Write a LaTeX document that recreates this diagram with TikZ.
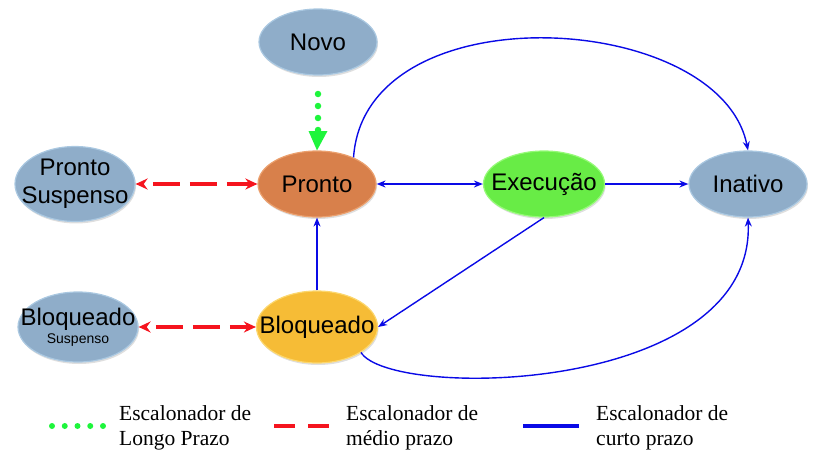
\documentclass[tikz,border=0pt]{standalone}
\usepackage{fontspec}
\setmainfont{Liberation Serif}
\newfontfamily\arialf{Liberation Sans}
\usetikzlibrary{shapes.geometric,arrows.meta,shadows}
\definecolor{grayblue}{RGB}{143,173,201}
\definecolor{grayblueD}{RGB}{170,200,225}
\definecolor{prontoC}{RGB}{216,128,75}
\definecolor{prontoD}{RGB}{235,160,110}
\definecolor{execC}{RGB}{104,236,70}
\definecolor{execD}{RGB}{150,250,120}
\definecolor{bloqC}{RGB}{246,188,54}
\definecolor{bloqD}{RGB}{252,215,110}
\definecolor{lineblue}{RGB}{10,10,230}
\definecolor{linered}{RGB}{245,20,30}
\definecolor{linegreen}{RGB}{30,245,60}
\newcommand{\ctxt}[1]{\makebox[0pt]{#1}}
\newcommand{\ctwo}[1]{\makebox[0pt]{\begin{tabular}{@{}c@{}}#1\end{tabular}}}
\tikzset{
  state/.style={ellipse, minimum width=118pt, minimum height=66pt, inner sep=0pt,
    font=\arialf\fontsize{24}{25}\selectfont, line width=1.2pt,
    drop shadow={shadow xshift=1pt, shadow yshift=-2pt, opacity=0.25}},
  grayst/.style={state, fill=grayblue, draw=grayblueD},
  bluearrow/.style={draw=lineblue, line width=1.4pt, -{Stealth[length=9pt,width=7pt]}},
  bluedbl/.style={draw=lineblue, line width=1.4pt, {Stealth[length=9pt,width=7pt]}-{Stealth[length=9pt,width=7pt]}},
  reddbl/.style={draw=linered, line width=3.5pt, dash pattern=on 27pt off 10pt, dash phase=-10pt,
    {Stealth[length=12pt,width=11pt]}-{Stealth[length=12pt,width=11pt]}},
  greendots/.style={draw=linegreen, line width=6.5pt, line cap=round, dash pattern=on 0pt off 12pt},
  legtext/.style={font=\fontsize{21.5}{25}\selectfont, align=left, anchor=west, inner sep=0pt}
}
\begin{document}
\begin{tikzpicture}[x=1pt,y=-1pt]
\useasboundingbox (0,0) rectangle (822,455);
% nodes
\node[grayst] (novo) at (318,42) {\ctxt{Novo}};
\node[state, fill=prontoC, draw=prontoD] (pronto) at (317,184) {\ctxt{Pronto}};
\node[grayst, minimum width=120pt, minimum height=70pt] (psusp) at (75,184) {\ctwo{Pronto\\[3pt]Suspenso}};
\node[state, fill=execC, draw=execD, minimum width=121pt] (exec) at (544,184) {\ctxt{Execução}};
\node[grayst] (inat) at (748,184) {\ctxt{Inativo}};
\node[state, fill=bloqC, draw=bloqD, minimum width=121pt, minimum height=72pt] (bloq) at (317,327) {\ctxt{Bloqueado}};
\node[grayst, minimum width=120pt, minimum height=70pt] (bsusp) at (78,327) {\ctwo{\raisebox{-5pt}{Bloqueado}\\[-4pt]{\fontsize{14}{15}\selectfont Suspenso}}};
% Novo -> Pronto
\coordinate (g1) at (318,94);
\coordinate (g2) at (318,130);
\draw[greendots] (g1) -- (g2);
\fill[linegreen] (308.5,131) -- (327.5,131) -- (pronto.north) -- cycle;
% red dashed
\draw[reddbl] (psusp.east) -- (pronto.west);
\draw[reddbl] (bsusp.east) -- (bloq.west);
% blue
\draw[bluedbl] (pronto.east) -- (exec.west);
\draw[bluearrow] (exec.east) -- (inat.west);
\draw[bluearrow] (bloq.north) -- (pronto.south);
\draw[bluearrow] (exec.south) -- (bloq.east);
\draw[bluearrow] (pronto.36) .. controls (365,-10) and (720,10) .. (inat.north);
\draw[bluearrow] (bloq.-30) .. controls (390,400) and (755,395) .. (inat.south);
% legend
\coordinate (lg1) at (52,426);
\coordinate (lg2) at (103,426);
\draw[draw=linegreen, line width=6pt, line cap=round, dash pattern=on 0pt off 12.75pt] (lg1) -- (lg2);
\node[legtext] (lt1) at (119,428) {Escalonador de\\Longo Prazo};
\coordinate (lr1) at (274,426);
\coordinate (lr2) at (329,426);
\draw[draw=linered, line width=3.5pt, dash pattern=on 21pt off 13pt] (lr1) -- (lr2);
\node[legtext] (lt2) at (346,428) {Escalonador de\\médio prazo};
\coordinate (lb1) at (523,426);
\coordinate (lb2) at (579,426);
\draw[draw=lineblue, line width=4.5pt] (lb1) -- (lb2);
\node[legtext] (lt3) at (596,428) {Escalonador de\\curto prazo};
\end{tikzpicture}
\end{document}
